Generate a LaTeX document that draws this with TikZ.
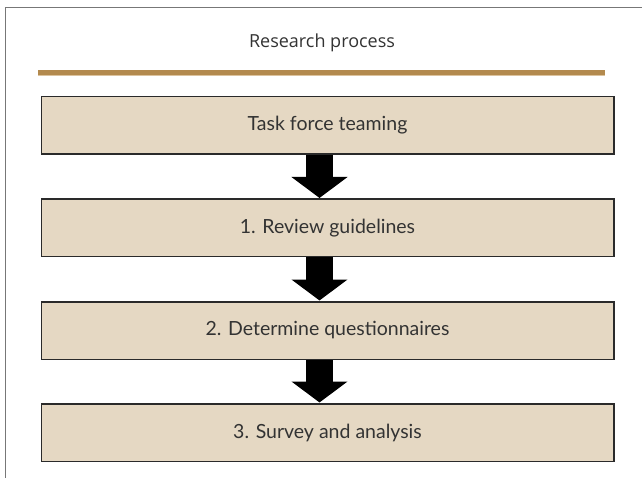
\documentclass[tikz,border=0pt]{standalone}
\usepackage{fontspec}
\setmainfont{Lato}
\newfontfamily\titlefont{Open Sans}
\usetikzlibrary{arrows.meta}
\definecolor{boxfill}{HTML}{E5D8C3}
\definecolor{boxline}{HTML}{2A2A2A}
\definecolor{gold}{HTML}{B38A4E}
\definecolor{goldlight}{HTML}{DCC39E}
\definecolor{frame}{HTML}{777777}
\definecolor{txt}{HTML}{333333}
\tikzset{
  stepbox/.style={draw=boxline, line width=1.5pt, fill=boxfill, minimum width=572.5pt, minimum height=57.5pt, inner sep=0pt, text=txt, font=\fontsize{19.5}{23}\selectfont, anchor=north west},
  downarrow/.style={draw=black, line width=27.6pt, -{Triangle[width=55pt,length=21pt]}, shorten >=0.5pt}
}
\begin{document}
\begin{tikzpicture}[x=1pt,y=-1pt]
\useasboundingbox (0,0) rectangle (642,478);
\draw[frame, line width=1.5pt] (5.5,478) -- (5.5,7.5) -- (642,7.5);
\node[text=txt, font=\titlefont\fontsize{18}{21}\selectfont] (title) at (322,43) {Research process};
\draw[gold, line width=5pt] (38,72.5) -- (605,72.5);
\draw[goldlight, line width=1pt] (38,75.5) -- (605,75.5);
\node[stepbox] (b1) at (40.5,96) {Task force teaming};
\node[stepbox] (b2) at (40.5,198.5) {1. Review guidelines};
\node[stepbox] (b3) at (40.5,301) {2. Determine questionnaires};
\node[stepbox] (b4) at (40.5,403) {3. Survey and analysis};
\coordinate (ax) at (319.5,0);
\draw[downarrow] (b1.south -| ax) -- (b2.north -| ax);
\draw[downarrow] (b2.south -| ax) -- (b3.north -| ax);
\draw[downarrow] (b3.south -| ax) -- (b4.north -| ax);
\end{tikzpicture}
\end{document}
